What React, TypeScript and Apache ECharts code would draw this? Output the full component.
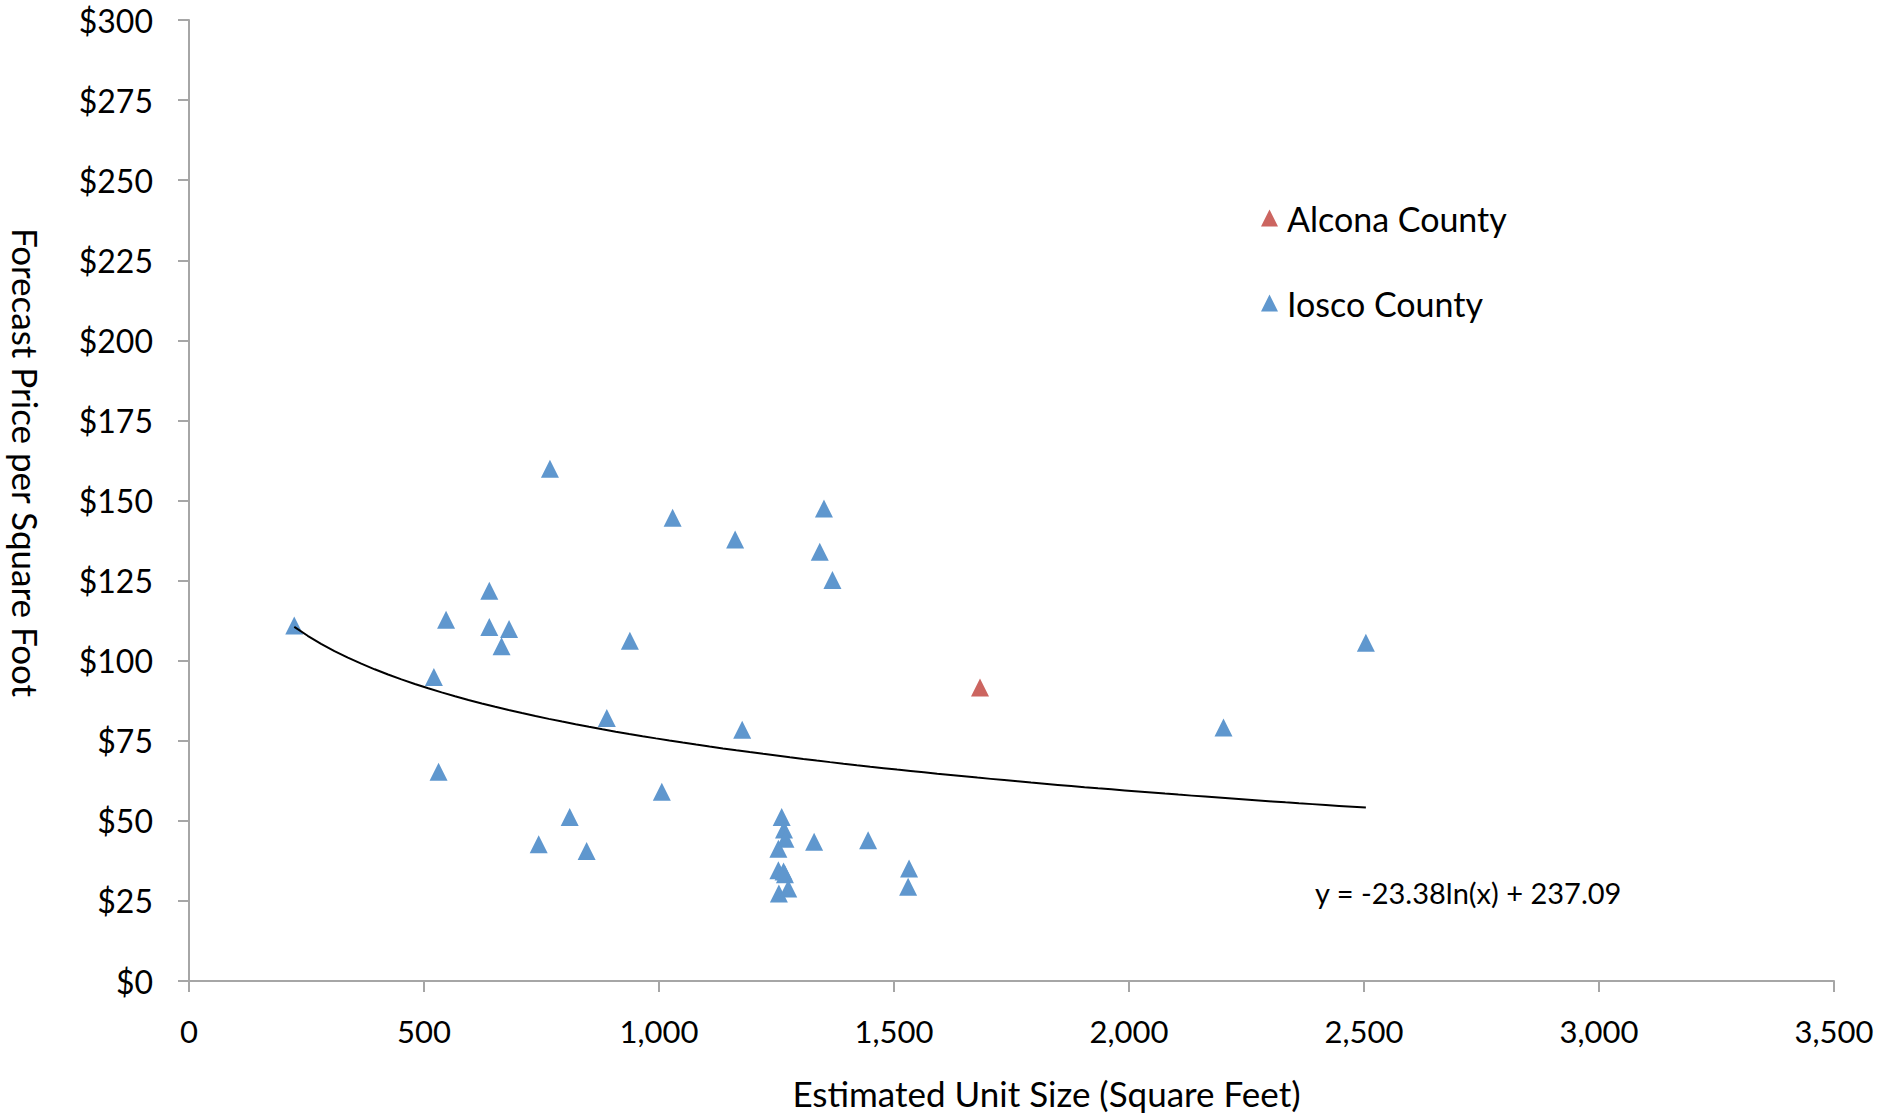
import React, { useEffect, useRef } from "react";
import * as echarts from "echarts";

// ---- Data ----
const ioscoX = [
  224, 768, 1029, 639, 547, 639, 681, 665, 938, 521, 889, 531, 1006, 810, 744, 846,
  1351, 1162, 1342, 1369, 1177,
  1261, 1266, 1269, 1254, 1254, 1265, 1268, 1255, 1275,
  1330, 1445, 1532, 1530, 2504, 2201,
];
const ioscoY = [
  111.0, 159.9, 144.6, 121.8, 112.8, 110.5, 109.9, 104.5, 106.2, 94.9, 82.1, 65.3, 59.1, 51.2, 42.7, 40.6,
  147.5, 137.8, 134.0, 125.2, 78.4,
  51.2, 47.3, 44.4, 41.3, 34.6, 34.2, 33.3, 27.3, 28.9,
  43.5, 43.9, 35.1, 29.4, 105.6, 79.1,
];
const alconaX = [1683];
const alconaY = [91.6];

// Trendline shown in the chart: y = -23.38 ln(x) + 237.09
const TREND_SLOPE = -23.38;
const TREND_INTERCEPT = 237.09;
const TREND_LABEL = "y = -23.38ln(x) + 237.09";

const seriesNames = ["Alcona County", "Iosco County"];
const xTitle = "Estimated Unit Size (Square Feet)";
const yTitle = "Forecast Price per Square Foot";

const BLUE = "#5F97CE";
const RED = "#CC6560";
const AXIS = "#A6A6A6";
const FONT = "Lato";

export default function App() {
  const ref = useRef<HTMLDivElement>(null);

  useEffect(() => {
    if (!ref.current) return;
    const chart = echarts.init(ref.current, undefined, { renderer: "svg" });

    const allX = ioscoX.concat(alconaX);
    const xMin = Math.min(...allX);
    const xMax = Math.max(...allX);
    const trend: number[][] = [];
    const steps = 80;
    for (let i = 0; i <= steps; i++) {
      const x = xMin + ((xMax - xMin) * i) / steps;
      trend.push([x, TREND_SLOPE * Math.log(x) + TREND_INTERCEPT]);
    }

    chart.setOption({
      animation: false,
      backgroundColor: "#ffffff",
      textStyle: { fontFamily: FONT },
      grid: { left: 189, right: 70, top: 20, bottom: 133, containLabel: false },
      xAxis: {
        type: "value",
        min: 0,
        max: 3500,
        interval: 500,
        name: xTitle,
        nameLocation: "middle",
        nameGap: 94,
        nameTextStyle: { fontFamily: FONT, fontSize: 35, color: "#000", padding: [0, 0, 0, 70] },
        axisLine: { show: true, lineStyle: { color: AXIS, width: 2 } },
        axisTick: { show: true, inside: false, length: 11, lineStyle: { color: AXIS, width: 2 } },
        axisLabel: {
          fontFamily: FONT,
          fontSize: 31,
          color: "#000",
          margin: 34,
          formatter: (v: number) => v.toLocaleString("en-US"),
        },
        splitLine: { show: false },
      },
      yAxis: {
        type: "value",
        min: 0,
        max: 300,
        interval: 25,
        name: yTitle,
        nameLocation: "middle",
        nameRotate: -90,
        nameGap: 146,
        nameTextStyle: { fontFamily: FONT, fontSize: 35, color: "#000", padding: [0, 76, 0, 0] },
        axisLine: { show: true, lineStyle: { color: AXIS, width: 2 } },
        axisTick: { show: true, inside: false, length: 11, lineStyle: { color: AXIS, width: 2 } },
        axisLabel: {
          fontFamily: FONT,
          fontSize: 32,
          color: "#000",
          margin: 36,
          formatter: (v: number) => "$" + v,
        },
        splitLine: { show: false },
      },
      legend: {
        orient: "vertical",
        left: 1256,
        top: 193,
        data: seriesNames,
        icon: "triangle",
        itemWidth: 17,
        itemHeight: 17,
        itemGap: 45,
        textStyle: { fontFamily: FONT, fontSize: 34, color: "#000", lineHeight: 40, padding: [0, 0, 0, 4] },
      },
      series: [
        {
          name: "Iosco County",
          type: "scatter",
          symbol: "triangle",
          symbolSize: [18, 18],
          itemStyle: { color: BLUE, opacity: 1 },
          data: ioscoX.map((x, i) => [x, ioscoY[i]]),
          z: 2,
        },
        {
          name: "Alcona County",
          type: "scatter",
          symbol: "triangle",
          symbolSize: [18, 18],
          itemStyle: { color: RED, opacity: 1 },
          data: alconaX.map((x, i) => [x, alconaY[i]]),
          z: 2,
        },
        {
          name: "Trend",
          type: "line",
          data: trend,
          showSymbol: false,
          symbol: "none",
          smooth: false,
          lineStyle: { color: "#000", width: 2 },
          z: 3,
          silent: true,
        },
      ],
      graphic: [
        {
          type: "text",
          left: 1315,
          top: 878,
          style: { text: TREND_LABEL, fontFamily: FONT, fontSize: 29, fill: "#000" },
        },
      ],
    });

    return () => chart.dispose();
  }, []);

  return (
    <div
      ref={ref}
      style={{ position: "fixed", left: 0, top: 0, width: 1904, height: 1115, background: "#fff" }}
    />
  );
}
